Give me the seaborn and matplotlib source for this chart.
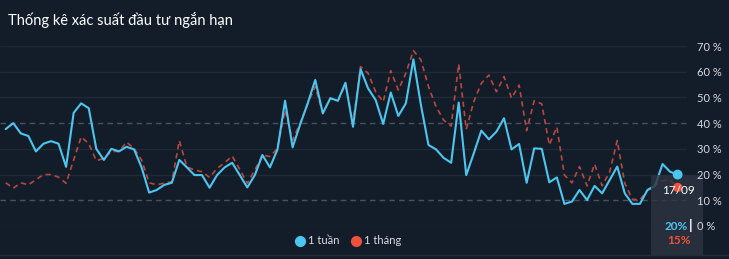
import matplotlib
matplotlib.use("Agg")
import matplotlib.pyplot as plt
import seaborn as sns
import pandas as pd
import numpy as np
from matplotlib.lines import Line2D
from matplotlib.patches import Rectangle

# ---------------- data ----------------
week = [37.7, 40, 36, 35, 29, 32, 33, 32, 23, 44,
        47.7, 45.8, 30, 25.7, 30, 29, 30.8, 29.8, 22.8, 13,
        14, 16, 16.8, 25.7, 22.8, 19.8, 19.8, 14.9, 19.8, 22.8,
        24.6, 19.8, 15, 19.8, 27.6, 22.8, 29.8, 48.7, 30.6, 39.5,
        47.7, 56.8, 43.8, 49.7, 48.7, 55.7, 38.6, 61, 53.5, 49,
        39.7, 51.9, 42.8, 47.7, 64.8, 47, 31.5, 29.8, 26.5, 24.6,
        48, 19.8, 28.3, 37.1, 33.7, 36.7, 41.9, 29.8, 31.9, 16.8,
        30.2, 30, 17, 18.9, 8.6, 9.5, 14, 10.1, 15.6, 12.7,
        17.9, 23.1, 12.7, 8.6, 8.6, 14, 15.6, 24.1, 21.1, 20]
month = [16.8, 14.7, 16.8, 16, 18, 20, 20, 19, 16.6, 25.7,
         34.7, 32, 25.4, 26.3, 29, 29, 32.6, 30.2, 25.7, 16.8,
         16, 16.7, 17.2, 33.2, 23, 21.8, 21.1, 18.9, 22.4, 24.6,
         27.2, 22, 16.6, 21.8, 27.6, 27, 30.2, 45, 33.4, 40,
         47.5, 54.2, 43.8, 49.7, 48.7, 55, 40, 62, 59.4, 52.2,
         48.3, 60.4, 52.9, 59.4, 68.2, 64.6, 54.2, 46.4, 41.2, 38.9,
         63, 37.6, 48.4, 55.5, 58.7, 52.2, 58.1, 49.7, 54.8, 37.1,
         48.7, 47.5, 31.5, 38.5, 19.8, 16.8, 23.1, 15.6, 24.1, 15.6,
         21.1, 33.2, 16.6, 10.4, 10.1, 14, 15.9, 17.6, 17.9, 15]
series_names = ["1 tuần", "1 tháng"]
y_ticks = [0, 10, 20, 30, 40, 50, 60, 70]
y_tick_labels = ["0 %", "10 %", "20 %", "30 %", "40 %", "50 %", "60 %", "70 %"]
title = "Thống kê xác suất đầu tư ngắn hạn"
last_date = "17/09"

# ---------------- style ----------------
BG = "#131d2a"
BLUE = "#4cc6ee"
RED_LINE = "#b8473c"
RED_DOT = "#f0513c"
TXT = "#d6dae0"

sns.set_theme(style="dark")
plt.rcParams["font.family"] = ["Lato", "DejaVu Sans"]

W, H = 729, 259
fig = plt.figure(figsize=(W / 100, H / 100), dpi=100, facecolor=BG)

# axes in pixel terms: x 0..687, y(0%)=226, y(70%)=46
ax = fig.add_axes([0 / W, (H - 226) / H, 687 / W, 180 / H])
ax.set_facecolor(BG)
for s in ax.spines.values():
    s.set_visible(False)

n = len(week)
idx = np.arange(n)
df = pd.DataFrame({
    "i": np.concatenate([idx, idx]),
    "v": week + month,
    "s": [series_names[0]] * n + [series_names[1]] * n,
})

# grid lines
for t in y_ticks:
    if t in (10, 40):
        ax.axhline(t, color="#4a525e", lw=1.0, ls=(0, (4, 3)), zorder=1)
    else:
        ax.axhline(t, color="#1f2a38", lw=1.0, zorder=1)

sns.lineplot(data=df[df.s == series_names[1]], x="i", y="v", ax=ax,
             color=RED_LINE, lw=1.2, legend=False, zorder=2,
             linestyle=(0, (3.2, 2.4)))
sns.lineplot(data=df[df.s == series_names[0]], x="i", y="v", ax=ax,
             color=BLUE, lw=1.5, legend=False, zorder=3)

px = 7.55
x0 = -5.7 / px
ax.set_xlim(x0, x0 + 687 / px)
ax.set_ylim(0, 70)

# tooltip box (pixels x 651..703, y 175..255)
ax.add_patch(Rectangle((651 / 687, (226 - 255) / 180), 52 / 687, 80 / 180,
                       transform=ax.transAxes, facecolor="#2b3440", alpha=0.8,
                       edgecolor="none", zorder=4, clip_on=False))

sns.scatterplot(x=[idx[-1]], y=[week[-1]], ax=ax, color=BLUE, s=50,
                edgecolor="none", zorder=6, legend=False)
sns.scatterplot(x=[idx[-1]], y=[month[-1]], ax=ax, color=RED_DOT, s=45,
                edgecolor="none", zorder=6, legend=False)

ax.set_yticks(y_ticks)
ax.set_yticklabels(y_tick_labels)
ax.yaxis.tick_right()
ax.tick_params(axis="y", length=0, pad=7, labelsize=8, labelcolor=TXT)
ax.yaxis.set_zorder(10)
ax.set_xticks([])
ax.set_xlabel("")
ax.set_ylabel("")
ax.grid(False)

# tooltip texts
fig.text(678 / W, 1 - 190 / H, last_date, ha="center", va="center",
         color="white", fontsize=8.5, zorder=7)
fig.text(688 / W, 1 - 226 / H, f"{week[-1]:.0f}%", ha="right", va="center",
         color=BLUE, fontsize=8.5, fontweight="bold", zorder=7)
fig.text(691 / W, 1 - 226 / H, "|", ha="center", va="center",
         color="white", fontsize=10, fontweight="bold", zorder=7)
fig.text(679 / W, 1 - 241 / H, f"{month[-1]:.0f}%", ha="center", va="center",
         color=RED_DOT, fontsize=8.5, fontweight="bold", zorder=7)

# title
fig.text(8 / W, 1 - 20 / H, title, ha="left", va="center",
         color="white", fontsize=10.5)

# legend
handles = [Line2D([], [], marker="o", ls="none", color=BLUE, markersize=7),
           Line2D([], [], marker="o", ls="none", color=RED_DOT, markersize=7)]
fig.legend(handles, series_names, loc="center", bbox_to_anchor=(348 / W, 1 - 241 / H),
           ncol=2, frameon=False, fontsize=8, labelcolor=TXT,
           handletextpad=0.2, columnspacing=1.0, handlelength=1.0)

# bottom separator line
fig.add_artist(Line2D([0, 1], [1 - 254.5 / H, 1 - 254.5 / H], transform=fig.transFigure,
                      color="#222d3a", lw=1.0))

fig.savefig("out.png", dpi=100, facecolor=BG)
